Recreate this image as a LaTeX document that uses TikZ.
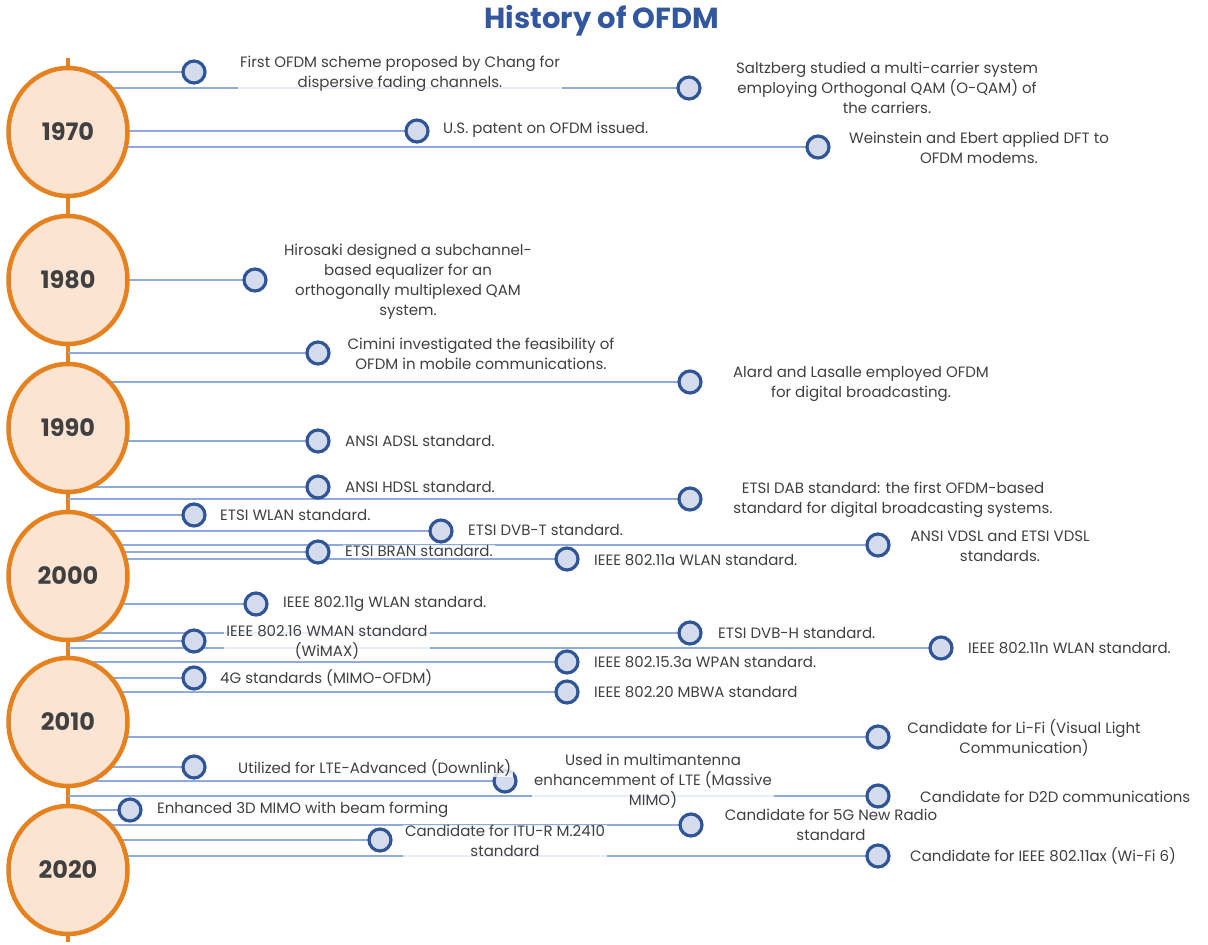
\documentclass[tikz,border=0pt]{standalone}
\usepackage{fontspec}
\setmainfont{Poppins}
\usetikzlibrary{shapes.geometric}
\definecolor{orng}{HTML}{E5811E}
\definecolor{peach}{HTML}{FBE4D2}
\definecolor{dblue}{HTML}{2F5597}
\definecolor{lblue}{HTML}{D4DBEC}
\definecolor{lineblue}{HTML}{8FAADC}
\definecolor{txt}{HTML}{404040}
\definecolor{ttl}{HTML}{3356A0}
\pgfdeclarelayer{bg}
\pgfsetlayers{bg,main}
\begin{document}
\begin{tikzpicture}[x=1pt,y=-1pt,
  yearnode/.style={ellipse, draw=orng, line width=4.5pt, fill=peach, minimum width=119pt, minimum height=128pt, inner sep=0pt, font=\fontsize{24}{28}\selectfont\bfseries, text=txt},
  evt/.style={circle, draw=dblue, line width=3.2pt, fill=lblue, minimum size=22pt, inner sep=0pt},
  conn/.style={lineblue, line width=2.8pt},
  axisline/.style={orng, line width=4.5pt},
  lbl/.style={font=\fontsize{15}{20}\selectfont, text=txt, fill=white, fill opacity=0.8, text opacity=1, inner xsep=2pt, inner ysep=0.5pt, align=center},
  lblw/.style={lbl, anchor=west},
]
\useasboundingbox (0,0) rectangle (1208,945);

% title
\node[font=\fontsize{29}{34}\selectfont\bfseries, text=ttl] (title) at (602,21) {History of OFDM};

% year circles
\coordinate (axtop) at (68,58);
\coordinate (axbot) at (68,942);
\node[yearnode] (y1970) at (68,132) {1970};
\node[yearnode] (y1980) at (68,280) {1980};
\node[yearnode] (y1990) at (68,428) {1990};
\node[yearnode] (y2000) at (68,576) {2000};
\node[yearnode] (y2010) at (68,722) {2010};
\node[yearnode] (y2020) at (68,870) {2020};

% event circles
\node[evt] (e1) at (194,72) {};
\node[evt] (e2) at (689,88) {};
\node[evt] (e3) at (417,131) {};
\node[evt] (e4) at (818,147) {};
\node[evt] (e5) at (255,280) {};
\node[evt] (e6) at (318,353) {};
\node[evt] (e7) at (690,382) {};
\node[evt] (e8) at (318,441) {};
\node[evt] (e9) at (318,487) {};
\node[evt] (e10) at (690,499) {};
\node[evt] (e11) at (194,515) {};
\node[evt] (e12) at (441,531) {};
\node[evt] (e13) at (318,552) {};
\node[evt] (e14) at (878,545) {};
\node[evt] (e15) at (567,559) {};
\node[evt] (e16) at (256,604) {};
\node[evt] (e17) at (194,641) {};
\node[evt] (e18) at (690,633) {};
\node[evt] (e19) at (941,648) {};
\node[evt] (e20) at (567,662) {};
\node[evt] (e21) at (194,678) {};
\node[evt] (e22) at (567,692) {};
\node[evt] (e23) at (878,737) {};
\node[evt] (e24) at (194,767) {};
\node[evt] (e25) at (505,781) {};
\node[evt] (e26) at (878,796) {};
\node[evt] (e27) at (130,810) {};
\node[evt] (e28) at (691,825) {};
\node[evt] (e29) at (380,840) {};
\node[evt] (e30) at (878,856) {};

% axis start points
\foreach \i/\yy in {1/72,2/88,3/131,4/147,5/280,6/353,7/382,8/441,9/487,10/499,11/515,12/531,13/552,14/545,15/559,16/604,17/641,18/633,19/648,20/662,21/678,22/692,23/737,24/767,25/781,26/796,27/810,28/825,29/840,30/856}
  \coordinate (a\i) at (68,\yy);

\begin{pgfonlayer}{bg}
\draw[axisline] (axtop) -- (axbot);
\foreach \i in {1,...,30}
  \draw[conn] (a\i) -- (e\i.center);
\end{pgfonlayer}

% labels
\node[lbl] (t1) at (400,74) {First OFDM scheme proposed by Chang for\\dispersive fading channels.};
\node[lbl] (t2) at (887,88) {Saltzberg studied a multi-carrier system\\employing Orthogonal QAM (O-QAM) of\\the carriers.};
\node[lblw] (t3) at (441,130) {U.S. patent on OFDM issued.};
\node[lbl] (t4) at (979,148) {Weinstein and Ebert applied DFT to\\OFDM modems.};
\node[lbl] (t5) at (408,282) {Hirosaki designed a subchannel-\\based equalizer for an\\orthogonally multiplexed QAM\\system.};
\node[lbl] (t6) at (481,354) {Cimini investigated the feasibility of\\OFDM in mobile communications.};
\node[lbl] (t7) at (861,384) {Alard and Lasalle employed OFDM\\for digital broadcasting.};
\node[lblw] (t8) at (343,441) {ANSI ADSL standard.};
\node[lblw] (t9) at (343,487) {ANSI HDSL standard.};
\node[lbl] (t10) at (893,500) {ETSI DAB standard: the first OFDM-based\\standard for digital broadcasting systems.};
\node[lblw] (t11) at (218,515) {ETSI WLAN standard.};
\node[lblw] (t12) at (466,530) {ETSI DVB-T standard.};
\node[lblw] (t13) at (343,551) {ETSI BRAN standard.};
\node[lbl] (t14) at (1000,546) {ANSI VDSL and ETSI VDSL\\standards.};
\node[lblw] (t15) at (592,560) {IEEE 802.11a WLAN standard.};
\node[lblw] (t16) at (281,604) {IEEE 802.11g WLAN standard.};
\node[lbl] (t17) at (327,642) {IEEE 802.16 WMAN standard\\(WiMAX)};
\node[lblw] (t18) at (716,633) {ETSI DVB-H standard.};
\node[lblw] (t19) at (966,648) {IEEE 802.11n WLAN standard.};
\node[lblw] (t20) at (592,662) {IEEE 802.15.3a WPAN standard.};
\node[lblw] (t21) at (218,678) {4G standards (MIMO-OFDM)};
\node[lblw] (t22) at (592,692) {IEEE 802.20 MBWA standard};
\node[lbl] (t23) at (1024,738) {Candidate for Li-Fi (Visual Light\\Communication)};
\node[lblw] (t24) at (236,768) {Utilized for LTE-Advanced (Downlink)};
\node[lbl] (t25) at (653,781) {Used in multimantenna\\enhancemment of LTE (Massive\\MIMO)};
\node[lblw] (t26) at (918,797) {Candidate for D2D communications};
\node[lblw] (t27) at (155,810) {Enhanced 3D MIMO with beam forming};
\node[lbl] (t28) at (831,825) {Candidate for 5G New Radio\\standard};
\node[lbl] (t29) at (505,841) {Candidate for ITU-R M.2410\\standard};
\node[lblw] (t30) at (908,856) {Candidate for IEEE 802.11ax (Wi-Fi 6)};
\end{tikzpicture}
\end{document}
